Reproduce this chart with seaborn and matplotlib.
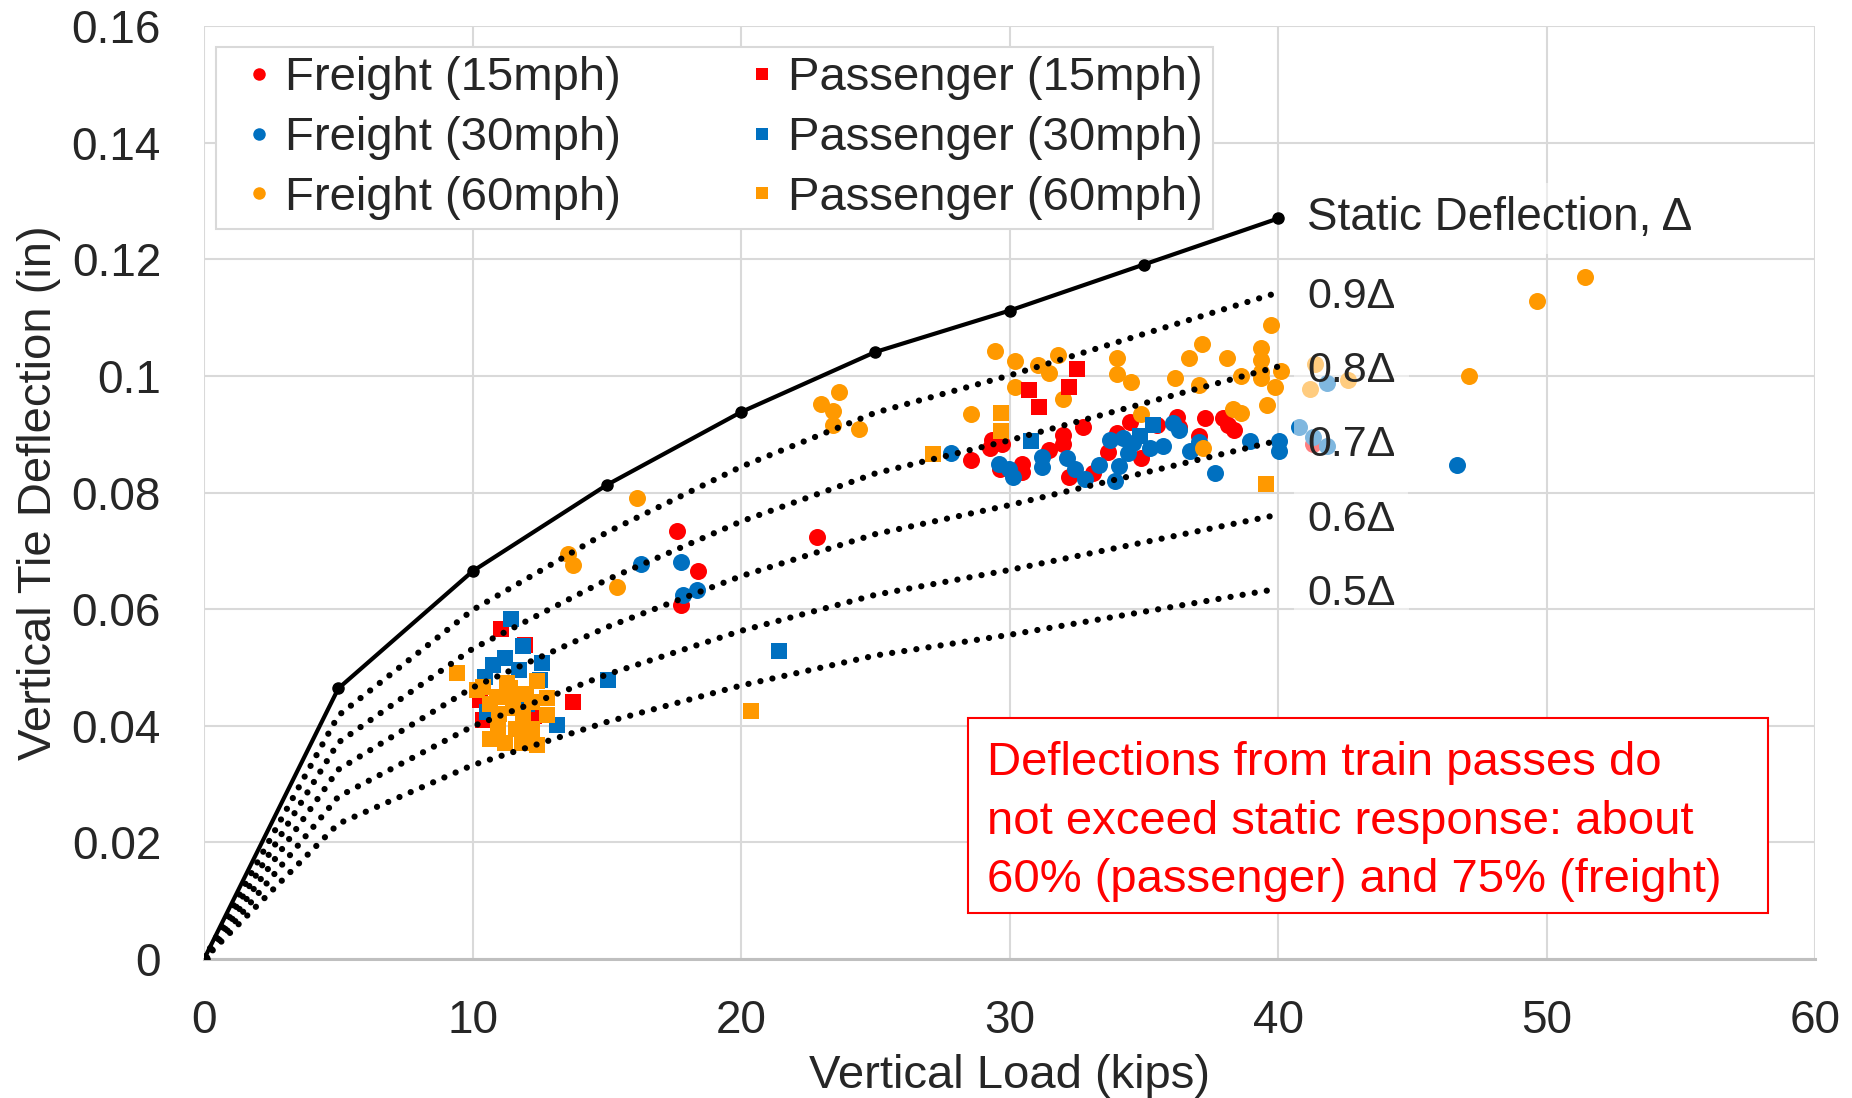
import numpy as np
import matplotlib
matplotlib.use("Agg")
import matplotlib.pyplot as plt
from matplotlib.lines import Line2D
from matplotlib.patches import Rectangle
from matplotlib.ticker import FuncFormatter
import seaborn as sns

# Static deflection curve (load steps in kips, deflection in inches)
load_steps = [0, 5, 10, 15, 20, 25, 30, 35, 40]
static_deflection = [0, 0.0464, 0.0665, 0.0813, 0.0938, 0.1041, 0.1112, 0.1191, 0.1270]
fractions = [0.9, 0.8, 0.7, 0.6, 0.5]
fraction_labels = ["0.9Δ", "0.8Δ", "0.7Δ", "0.6Δ", "0.5Δ"]

# Freight train passes
freight15_load = [17.60, 18.41, 17.75, 22.82, 28.55, 29.34, 29.71, 29.27, 29.65, 30.45,
                  30.45, 31.48, 31.98, 31.98, 32.73, 32.22, 33.12, 33.68, 33.99, 34.49,
                  34.89, 36.23, 36.29, 37.28, 37.94, 38.15, 38.34, 37.07, 35.48, 41.31]
freight15_defl = [0.0734, 0.0666, 0.0607, 0.0724, 0.0855, 0.0890, 0.0884, 0.0876, 0.0840, 0.0849,
                  0.0836, 0.0873, 0.0899, 0.0884, 0.0913, 0.0827, 0.0833, 0.0870, 0.0902, 0.0921,
                  0.0859, 0.0930, 0.0913, 0.0927, 0.0927, 0.0916, 0.0907, 0.0897, 0.0916, 0.0883]

freight30_load = [16.26, 17.75, 18.35, 17.83, 27.81, 29.62, 29.99, 30.14, 31.20, 31.20,
                  32.13, 32.44, 32.81, 33.33, 33.93, 34.08, 33.72, 34.24, 34.61, 34.42,
                  35.23, 35.71, 36.10, 36.29, 36.72, 37.04, 38.94, 40.05, 40.05, 37.65,
                  46.67, 41.81, 40.79, 41.31, 41.81]
freight30_defl = [0.0677, 0.0680, 0.0632, 0.0624, 0.0868, 0.0849, 0.0840, 0.0827, 0.0861, 0.0844,
                  0.0859, 0.0840, 0.0824, 0.0847, 0.0820, 0.0845, 0.0890, 0.0893, 0.0885, 0.0867,
                  0.0876, 0.0879, 0.0919, 0.0908, 0.0872, 0.0887, 0.0889, 0.0889, 0.0872, 0.0834,
                  0.0848, 0.0987, 0.0913, 0.0896, 0.0879]

freight60_load = [23.65, 22.98, 23.41, 23.41, 24.39, 16.11, 13.57, 13.73, 15.37, 28.55,
                  29.46, 30.20, 30.20, 31.07, 31.45, 31.82, 31.98, 33.99, 33.99, 34.51,
                  34.89, 36.16, 36.69, 37.18, 38.09, 39.37, 39.37, 39.37, 39.37, 39.73,
                  40.11, 37.06, 38.61, 39.89, 39.58, 38.31, 38.61, 37.19, 41.38, 41.17,
                  42.62, 47.11, 49.64, 51.43]
freight60_defl = [0.0972, 0.0951, 0.0940, 0.0916, 0.0909, 0.0790, 0.0695, 0.0676, 0.0638, 0.0934,
                  0.1043, 0.1026, 0.0981, 0.1019, 0.1005, 0.1036, 0.0961, 0.1030, 0.1003, 0.0989,
                  0.0934, 0.0996, 0.1030, 0.1054, 0.1030, 0.1047, 0.1027, 0.1007, 0.0996, 0.1087,
                  0.1009, 0.0984, 0.0999, 0.0981, 0.0950, 0.0944, 0.0936, 0.0876, 0.1020, 0.0977,
                  0.0993, 0.0999, 0.1129, 0.1170]

# Passenger train passes
passenger15_load = [32.50, 32.23, 30.73, 31.10, 11.06, 13.73, 11.96, 10.40, 12.27, 11.89, 10.28]
passenger15_defl = [0.1012, 0.0981, 0.0975, 0.0947, 0.0566, 0.0440, 0.0538, 0.0410, 0.0416, 0.0376, 0.0444]

passenger30_load = [30.80, 35.33, 34.86, 11.42, 13.14, 11.89, 10.77, 11.21, 12.58, 10.47,
                    11.71, 12.51, 12.02, 10.53, 10.96, 15.05, 21.42]
passenger30_defl = [0.0889, 0.0916, 0.0897, 0.0583, 0.0401, 0.0536, 0.0504, 0.0516, 0.0507, 0.0484,
                    0.0496, 0.0478, 0.0438, 0.0424, 0.0410, 0.0478, 0.0529]

passenger60_load = [29.67, 29.67, 27.14, 39.53, 20.36, 9.41, 10.16, 10.40, 11.27, 12.39,
                    10.65, 11.27, 12.76, 12.76, 11.89, 10.96, 10.65, 11.21, 11.83, 12.39,
                    11.50, 11.00, 12.00, 11.50, 12.20, 10.90, 11.60, 12.20, 11.40]
passenger60_defl = [0.0937, 0.0906, 0.0866, 0.0815, 0.0426, 0.0491, 0.0461, 0.0467, 0.0473, 0.0476,
                    0.0438, 0.0450, 0.0447, 0.0418, 0.0413, 0.0396, 0.0378, 0.0370, 0.0370, 0.0367,
                    0.0430, 0.0420, 0.0455, 0.0445, 0.0440, 0.0450, 0.0395, 0.0395, 0.0465]

RED, BLUE, ORANGE = "#FF0000", "#0070C0", "#FF9900"

sns.set_style("white")
plt.rcParams["font.family"] = ["Liberation Sans", "DejaVu Sans"]

fig = plt.figure(figsize=(18.52, 10.98), dpi=100)
ax = fig.add_axes([0.1102, 0.1266, 0.8699, 0.8497])

series = [
    (freight15_load, freight15_defl, RED, "o", "Freight (15mph)"),
    (freight30_load, freight30_defl, BLUE, "o", "Freight (30mph)"),
    (freight60_load, freight60_defl, ORANGE, "o", "Freight (60mph)"),
    (passenger15_load, passenger15_defl, RED, "s", "Passenger (15mph)"),
    (passenger30_load, passenger30_defl, BLUE, "s", "Passenger (30mph)"),
    (passenger60_load, passenger60_defl, ORANGE, "s", "Passenger (60mph)"),
]
for i, (xs, ys, col, mk, lab) in enumerate(series):
    sns.scatterplot(x=xs, y=ys, ax=ax, color=col, marker=mk,
                    s=150 if mk == "o" else 140,
                    linewidth=0, zorder=3 + i * 0.01, legend=False)

# Static deflection and fractional curves
ax.plot(load_steps, static_deflection, color="black", lw=3, marker="o",
        markersize=8, zorder=4)
for f, lab in zip(fractions, fraction_labels):
    ys = [f * v for v in static_deflection]
    ax.plot(load_steps, ys, color="black", lw=4.5,
            linestyle=(0, (0.01, 1.95)), dash_capstyle="round", zorder=4)

label_box = dict(boxstyle="square,pad=0.3", fc="white", ec="none", alpha=0.5)
ax.annotate("Static Deflection, Δ", xy=(40, static_deflection[-1]), xytext=(21, 0),
            textcoords="offset points", ha="left", va="center", fontsize=33,
            bbox=label_box, zorder=6)
for f, lab in zip(fractions, fraction_labels):
    ax.annotate(lab, xy=(40, f * static_deflection[-1]), xytext=(21, -3.5),
                textcoords="offset points", ha="left", va="center", fontsize=31,
                bbox=label_box, zorder=6)

# Axes styling
ax.set_xlim(0, 60)
ax.set_ylim(0, 0.16)
ax.set_xticks(range(0, 61, 10))
ax.set_yticks(np.arange(0, 0.1601, 0.02))
ax.yaxis.set_major_formatter(FuncFormatter(lambda v, p: "0" if abs(v) < 1e-9 else f"{v:g}"))
ax.grid(True, color="#d9d9d9", lw=1.5)
ax.set_axisbelow(True)
for side in ["top", "right", "left"]:
    ax.spines[side].set_visible(False)
ax.spines["bottom"].set_color("#bfbfbf")
ax.spines["bottom"].set_linewidth(2.2)
ax.tick_params(axis="x", length=0, pad=29, labelsize=33)
ax.tick_params(axis="y", length=0, pad=31, labelsize=33)
ax.set_xlabel("Vertical Load (kips)", fontsize=34, labelpad=8)
ax.set_ylabel("Vertical Tie Deflection (in)", fontsize=34, labelpad=8)

# Legend
handles = [Line2D([], [], linestyle="", marker=mk, color=col, markersize=9,
                  markeredgewidth=0, label=lab)
           for (_, _, col, mk, lab) in series]
leg = ax.legend(handles=handles, loc="upper left", bbox_to_anchor=(0.0074, 0.9775),
                ncol=2, fontsize=34, frameon=True, fancybox=False, framealpha=1,
                edgecolor="#d9d9d9", borderpad=0.2, labelspacing=0.33,
                handlelength=1.42, handletextpad=-0.15, columnspacing=2.27,
                borderaxespad=0)
leg.get_frame().set_linewidth(1.5)

# Summary note
ax.add_patch(Rectangle((0.474, 0.049), 0.497, 0.209, transform=ax.transAxes,
                       fc="white", ec=RED, lw=1.5, zorder=7))
note_lines = ["Deflections from train passes do",
              "not exceed static response: about",
              "60% (passenger) and 75% (freight)"]
for line, yb in zip(note_lines, [0.197, 0.134, 0.072]):
    ax.text(0.486, yb, line, transform=ax.transAxes, color=RED, fontsize=34,
            ha="left", va="baseline", zorder=8)

fig.savefig("out.png", dpi=100)
